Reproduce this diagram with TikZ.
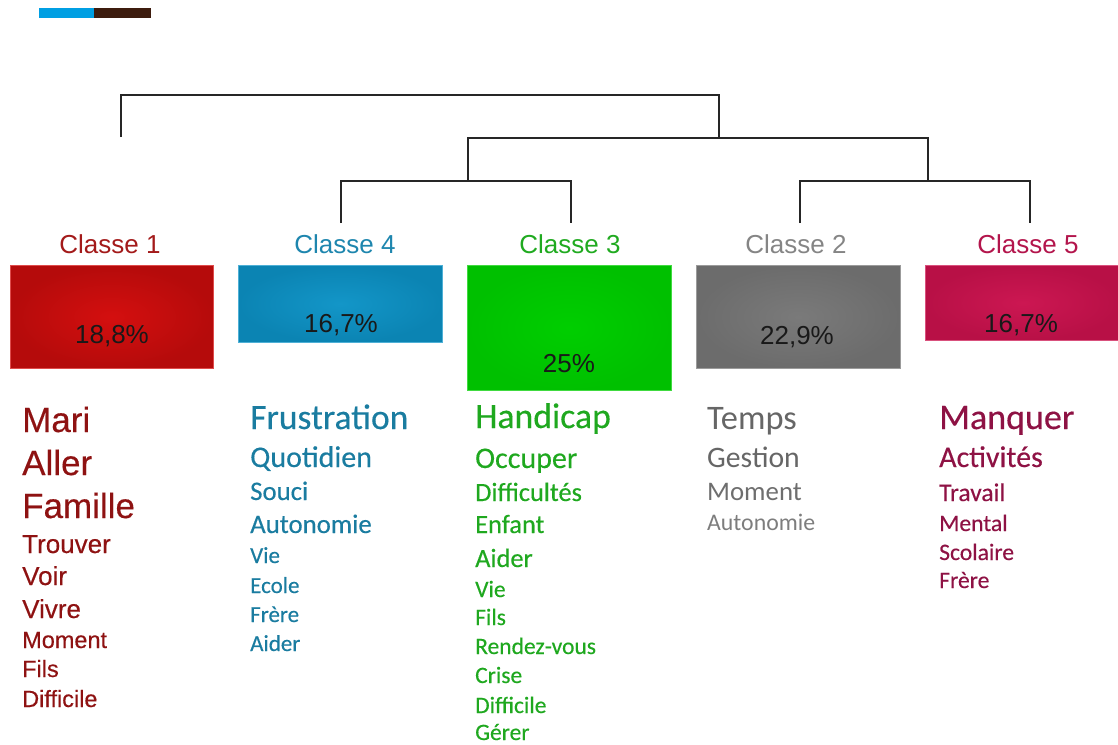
\documentclass[tikz,border=0pt]{standalone}
\usepackage{fontspec}
\setmainfont{Liberation Sans}
\newfontfamily\carl[FakeBold=0.35]{Carlito}
\newfontfamily\carlthin{Carlito}
\newfontfamily\arialw[FakeBold=0.35]{Liberation Sans}
\definecolor{bluebar}{HTML}{009FE3}
\definecolor{brownbar}{HTML}{3D1C0E}
\definecolor{redin}{HTML}{D40F0F}
\definecolor{redout}{HTML}{B50B0B}
\definecolor{bluein}{HTML}{1396C8}
\definecolor{blueout}{HTML}{0B84B3}
\definecolor{greenin}{HTML}{00CE00}
\definecolor{greenout}{HTML}{00C000}
\definecolor{grayin}{HTML}{7A7A7A}
\definecolor{grayout}{HTML}{6C6C6C}
\definecolor{pinkin}{HTML}{CC1752}
\definecolor{pinkout}{HTML}{B81046}
\definecolor{lab1}{HTML}{A31A1A}
\definecolor{lab4}{HTML}{1E86AE}
\definecolor{lab3}{HTML}{20AA20}
\definecolor{lab2}{HTML}{858585}
\definecolor{lab5}{HTML}{B3154C}
\definecolor{w1}{HTML}{8E1212}
\definecolor{w4}{HTML}{1A7CA0}
\definecolor{w3}{HTML}{1FA81F}
\definecolor{w2}{HTML}{666666}
\definecolor{w5}{HTML}{8E1244}
\begin{document}
\begin{tikzpicture}[x=1pt,y=-1pt,
  box/.style={anchor=north west,inner sep=0pt,shade,draw=#1in!75!white,line width=0.6pt,inner color=#1in,outer color=#1out},
  classlab/.style={anchor=base,font=\fontsize{26}{26}\selectfont,text=#1},
  pct/.style={anchor=base,font=\fontsize{26}{26}\selectfont,text=black!90},
  wd/.style={anchor=base west,inner sep=0pt},
  tree/.style={line width=1.3pt,draw=black!85}]
\useasboundingbox (0,0) rectangle (1118,744);
% top bar
\fill[bluebar] (39,8) rectangle (94,18);
\fill[brownbar] (94,8) rectangle (151,18);
% dendrogram coordinates
\coordinate (leaf1) at (121,137);
\coordinate (root) at (420,95);
\coordinate (n2) at (719,138);
\coordinate (n34) at (468,181);
\coordinate (n25) at (928,181);
\coordinate (leaf4) at (341,223);
\coordinate (leaf3) at (571,223);
\coordinate (leaf2) at (800,223);
\coordinate (leaf5) at (1030,223);
\draw[tree] (leaf1) |- (root) -| (n2);
\draw[tree] (n34) |- (n2) -| (n25);
\draw[tree] (leaf4) |- (n34) -| (leaf3);
\draw[tree] (leaf2) |- (n25) -| (leaf5);
% class labels
\node[classlab=lab1] (c1) at (110,253) {Classe 1};
\node[classlab=lab4] (c4) at (345,253) {Classe 4};
\node[classlab=lab3] (c3) at (570,253) {Classe 3};
\node[classlab=lab2] (c2) at (796,253) {Classe 2};
\node[classlab=lab5] (c5) at (1028,253) {Classe 5};
% boxes
\node[box=red,minimum width=203pt,minimum height=103pt] (b1) at (10,265) {};
\node[box=blue,minimum width=204pt,minimum height=77pt] (b4) at (238,265) {};
\node[box=green,minimum width=204pt,minimum height=125pt] (b3) at (467,265) {};
\node[box=gray,minimum width=204pt,minimum height=103pt] (b2) at (696,265) {};
\node[box=pink,minimum width=195pt,minimum height=75pt] (b5) at (925,265) {};
\node[pct] (p1) at (112,343) {18,8\%};
\node[pct] (p4) at (341,332) {16,7\%};
\node[pct] (p3) at (569,372) {25\%};
\node[pct] (p2) at (797,344) {22,9\%};
\node[pct] (p5) at (1021,332) {16,7\%};
% class 1 words (Arial-like)
\begin{scope}[every node/.style={wd,text=w1}]
\node[font=\arialw\fontsize{35}{35}\selectfont] (a1) at (22,432) {Mari};
\node[font=\arialw\fontsize{35}{35}\selectfont] (a2) at (22,475) {Aller};
\node[font=\arialw\fontsize{35}{35}\selectfont] (a3) at (22,518) {Famille};
\node[font=\arialw\fontsize{26}{26}\selectfont] (a4) at (22,553) {Trouver};
\node[font=\arialw\fontsize{26}{26}\selectfont] (a5) at (22,585) {Voir};
\node[font=\arialw\fontsize{26}{26}\selectfont] (a6) at (22,618) {Vivre};
\node[font=\arialw\fontsize{23.5}{24}\selectfont] (a7) at (22,648) {Moment};
\node[font=\arialw\fontsize{23.5}{24}\selectfont] (a8) at (22,677) {Fils};
\node[font=\arialw\fontsize{23.5}{24}\selectfont] (a9) at (22,707) {Difficile};
\end{scope}
% class 4 words
\begin{scope}[every node/.style={wd,text=w4}]
\node[font=\carl\fontsize{35.5}{36}\selectfont] (d1) at (250,429) {Frustration};
\node[font=\carl\fontsize{30}{30}\selectfont] (d2) at (250,467) {Quotidien};
\node[font=\carl\fontsize{26.8}{27}\selectfont] (d3) at (250,500) {Souci};
\node[font=\carl\fontsize{26.8}{27}\selectfont] (d4) at (250,533) {Autonomie};
\node[font=\carl\fontsize{23}{23}\selectfont] (d5) at (250,563) {Vie};
\node[font=\carl\fontsize{23}{23}\selectfont] (d6) at (250,593) {Ecole};
\node[font=\carl\fontsize{23}{23}\selectfont] (d7) at (250,622) {Frère};
\node[font=\carl\fontsize{23}{23}\selectfont] (d8) at (250,651) {Aider};
\end{scope}
% class 3 words
\begin{scope}[every node/.style={wd,text=w3}]
\node[font=\carl\fontsize{35.7}{36}\selectfont] (g1) at (475,428) {Handicap};
\node[font=\carl\fontsize{30}{30}\selectfont] (g2) at (475,468) {Occuper};
\node[font=\carl\fontsize{26.4}{27}\selectfont] (g3) at (475,501) {Difficultés};
\node[font=\carl\fontsize{26.4}{27}\selectfont] (g4) at (475,533) {Enfant};
\node[font=\carl\fontsize{26.4}{27}\selectfont] (g5) at (475,567) {Aider};
\node[font=\carl\fontsize{23.5}{24}\selectfont] (g6) at (475,597) {Vie};
\node[font=\carl\fontsize{23.5}{24}\selectfont] (g7) at (475,625) {Fils};
\node[font=\carl\fontsize{23.5}{24}\selectfont] (g8) at (475,654) {Rendez-vous};
\node[font=\carl\fontsize{23.5}{24}\selectfont] (g9) at (475,683) {Crise};
\node[font=\carl\fontsize{23.5}{24}\selectfont] (g10) at (475,713) {Difficile};
\node[font=\carl\fontsize{23.5}{24}\selectfont] (g11) at (475,740) {Gérer};
\end{scope}
% class 2 words
\begin{scope}[every node/.style={wd}]
\node[font=\carlthin\fontsize{34.4}{35}\selectfont,text=w2] (t1) at (707,429) {Temps};
\node[font=\carlthin\fontsize{29.7}{30}\selectfont,text=w2] (t2) at (707,467) {Gestion};
\node[font=\carlthin\fontsize{26.8}{27}\selectfont,text=w2!95!white] (t3) at (707,500) {Moment};
\node[font=\carlthin\fontsize{23.8}{24}\selectfont,text=w2!85!white] (t4) at (707,530) {Autonomie};
\end{scope}
% class 5 words
\begin{scope}[every node/.style={wd,text=w5}]
\node[font=\carl\fontsize{36}{36}\selectfont] (m1) at (939,429) {Manquer};
\node[font=\carl\fontsize{30}{30}\selectfont] (m2) at (939,467) {Activités};
\node[font=\carl\fontsize{25.5}{26}\selectfont] (m3) at (939,501) {Travail};
\node[font=\carl\fontsize{23.6}{24}\selectfont] (m4) at (939,531) {Mental};
\node[font=\carl\fontsize{23.6}{24}\selectfont] (m5) at (939,560) {Scolaire};
\node[font=\carl\fontsize{23.6}{24}\selectfont] (m6) at (939,588) {Frère};
\end{scope}
\end{tikzpicture}
\end{document}
